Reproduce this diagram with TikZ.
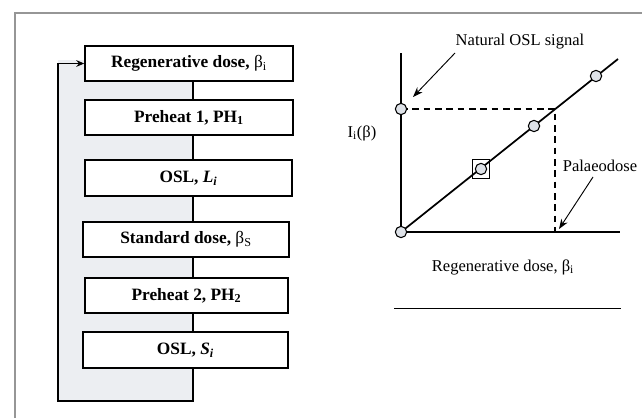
\documentclass[tikz,border=0pt]{standalone}
\usepackage{fontspec}
\setmainfont{Liberation Serif}
\usetikzlibrary{arrows.meta}

\definecolor{loopgray}{RGB}{236,238,242}
\definecolor{ptgray}{RGB}{222,226,232}
\definecolor{framegray}{RGB}{150,150,150}

\newcommand{\betasub}[1]{{\mdseries β\textsubscript{#1}}}

\tikzset{
  stepbox/.style={draw, line width=1.1pt, fill=white, minimum width=156pt, minimum height=26.25pt, inner sep=0pt, font=\fontsize{13}{15}\selectfont\bfseries},
  datapt/.style={circle, draw, line width=0.8pt, fill=ptgray, minimum size=8.5pt, inner sep=0pt},
  lbl/.style={inner sep=0.75pt, font=\fontsize{12.4}{14}\selectfont},
  pointer/.style={line width=0.7pt, -{Stealth[length=7.5pt,width=5.5pt]}},
}

\begin{document}
\begin{tikzpicture}[x=0.75pt,y=0.75pt,yscale=-1,xscale=1]
\useasboundingbox (0,0) rectangle (642,418);

% Frame
\draw [framegray, line width=1.1pt] (15,418) -- (15,13) -- (642,13) ;
% Shaded loop area
\fill [loopgray] (58,60) rectangle (193,401) ;

% Protocol steps
\node [stepbox] (regen) at (189,63.5) {Regenerative dose, \betasub{i}};
\node [stepbox] (ph1) at (189,117.5) {Preheat 1, PH\textsubscript{1}};
\node [stepbox, minimum width=155pt, minimum height=27pt] (oslL) at (188.5,178) {OSL, \textit{L\textsubscript{i}}};
\node [stepbox, minimum width=154.5pt] (stdose) at (186,239.5) {Standard dose, \betasub{S}};
\node [stepbox, minimum width=152pt] (ph2) at (186.5,295.5) {Preheat 2, PH\textsubscript{2}};
\node [stepbox, minimum width=154pt, minimum height=27pt] (oslS) at (185.5,350) {OSL, \textit{S\textsubscript{i}}};

% Links between steps
\coordinate (spine) at (193,0);
\foreach \a/\b in {regen/ph1, ph1/oslL, oslL/stdose, stdose/ph2, ph2/oslS}
  \draw [line width=1.1pt] (\a.south -| spine) -- (\b.north -| spine) ;
% Return loop
\coordinate (loopcorner) at (58,401);
\draw [line width=1.1pt, -{Stealth[length=6pt,width=5pt]}] (oslS.south -| spine) |- (loopcorner) |- (regen.west) ;

% Growth curve
\coordinate (origin) at (401,232);
\coordinate (ytop) at (401,53);
\coordinate (xend) at (620,232);
\coordinate (fitend) at (618,59);
\coordinate (natural) at (401,109);
\coordinate (dose) at (555,109);
\draw [line width=1.3pt] (ytop) -- (origin) -- (xend) ;
\draw [line width=1.3pt] (origin) -- (fitend) ;
\draw [line width=1.2pt, dash pattern=on 5pt off 3.5pt] (natural) -- (dose) -- (dose |- origin) ;

\node [draw, line width=1.2pt, minimum width=13pt, minimum height=14pt, inner sep=0pt] (testbox) at (481,169) {};
\node [datapt] (p0) at (origin) {};
\node [datapt] (pn) at (natural) {};
\node [datapt] (p1) at (481,169) {};
\node [datapt] (p2) at (534,126) {};
\node [datapt] (p3) at (596,76) {};

% Text Node
\node [lbl] (natlbl) at (520,42) {Natural OSL signal};
\coordinate (nattail) at (455,53);
\coordinate (nathead) at (413,97);
\draw [pointer] (nattail) -- (nathead) ;
% Text Node
\node [lbl] (palaeo) at (600,166) {Palaeodose};
\coordinate (paltail) at (593,177);
\coordinate (palhead) at (559,229);
\draw [pointer] (paltail) -- (palhead) ;
% Text Node
\node [lbl] (ylbl) at (362,133) {I\textsubscript{i}(β)};
% Text Node
\node [lbl] (xlbl) at (503,267) {Regenerative dose, β\textsubscript{i}};

\draw [line width=0.7pt] (394,308) -- (621,308) ;

\end{tikzpicture}
\end{document}
